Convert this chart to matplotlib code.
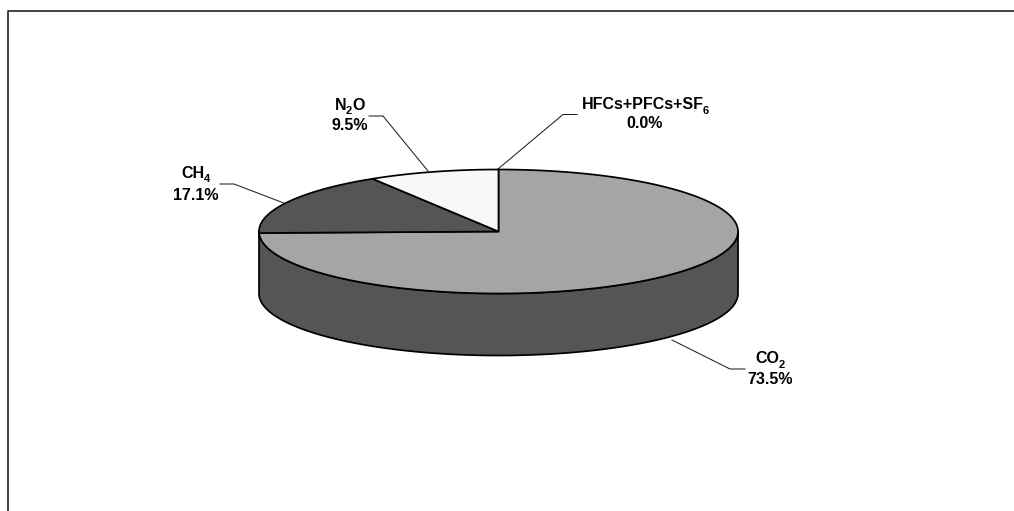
import numpy as np
import matplotlib
matplotlib.use("Agg")
import matplotlib.pyplot as plt

plt.rcParams["font.family"] = ["Liberation Sans", "DejaVu Sans"]

# gas name split around its subscript
gas_heads = ["CO", "CH", "N", "HFCs+PFCs+SF"]
gas_subs = ["2", "4", "2", "6"]
gas_tails = ["", "", "O", ""]
shares = [73.5, 17.1, 9.5, 0.0]
top_colors = ["#A5A5A5", "#555555", "#F8F8F8", "#FFFFFF"]

# layout in pixels of the 1014x511 picture
CX, CY = 498.5, 231.5
RX, RY = 239.5, 62
DEPTH = 62
SKEW = 4.3  # perspective pushes the boundaries a bit clockwise
FONT = 11.5
SUB_FONT = 8

label_pos = [(770, 357, 379), (196, 172, 195), (350, 104, 126), (645, 103, 124)]
leaders = [
    [(672, 340), (730, 369), (745, 369)],
    [(285, 203.5), (234, 184), (220, 184)],
    [(428, 171), (383, 116), (369, 116)],
    [(498, 169), (563, 114.5), (577, 114.5)],
]


def rim(deg):
    # deg runs clockwise from 12 o'clock
    t = np.radians(deg)
    return CX + RX * np.sin(t), CY - RY * np.cos(t)


def warp(deg):
    return deg + SKEW * abs(np.sin(np.radians(deg)))


def draw_name(ax, fig, cx, y, head, sub, tail):
    # pieces are placed one after the other, then shifted so the whole is centred
    rend = fig.canvas.get_renderer()
    style = dict(va="center_baseline", ha="left", fontweight="bold", color="black")
    pieces = [
        ax.text(0, y, head, fontsize=FONT, **style),
        ax.text(0, y + 6.5, sub, fontsize=SUB_FONT, **style),
        ax.text(0, y, tail, fontsize=FONT, **style),
    ]
    widths = [p.get_window_extent(rend).width if p.get_text() else 0 for p in pieces]
    gap = -1
    x = cx - (sum(widths) + gap) / 2
    pieces[0].set_x(x)
    pieces[1].set_x(x + widths[0] + gap)
    pieces[2].set_x(x + widths[0] + gap + widths[1])


def main():
    fig = plt.figure(figsize=(10.14, 5.11), dpi=100)
    ax = fig.add_axes([0, 0, 1, 1])
    ax.set_xlim(0, 1014)
    ax.set_ylim(511, 0)
    ax.axis("off")

    # frame runs off the right and bottom edges
    ax.plot([7.5, 7.5, 1014], [511, 11.5, 11.5], color="#222222", lw=1.2)

    # side wall
    t = np.linspace(90, 270, 200)
    x, y = rim(t)
    ax.fill(np.r_[x, x[::-1]], np.r_[y, y[::-1] + DEPTH],
            facecolor="#555555", edgecolor="black", lw=1.25, joinstyle="round", zorder=2)

    # top face
    edges = np.r_[0, np.cumsum(shares)] / np.sum(shares) * 360
    for start, end, color in zip(edges[:-1], edges[1:], top_colors):
        if end - start < 0.01:
            continue
        t = np.linspace(warp(start), warp(end), 300)
        x, y = rim(t)
        ax.fill(np.r_[CX, x], np.r_[CY, y], facecolor=color, edgecolor="black",
                lw=1.25, joinstyle="miter", zorder=3)

    for pts in leaders:
        xs, ys = zip(*pts)
        ax.plot(xs, ys, color="#222222", lw=0.75, zorder=1)

    for head, sub, tail, share, (lx, y1, y2) in zip(gas_heads, gas_subs, gas_tails, shares, label_pos):
        draw_name(ax, fig, lx, y1, head, sub, tail)
        ax.text(lx, y2, f"{share:.1f}%", ha="center", va="center", fontsize=FONT, fontweight="bold", color="black")

    fig.savefig("out.png", dpi=100, facecolor="white")


if __name__ == "__main__":
    main()
